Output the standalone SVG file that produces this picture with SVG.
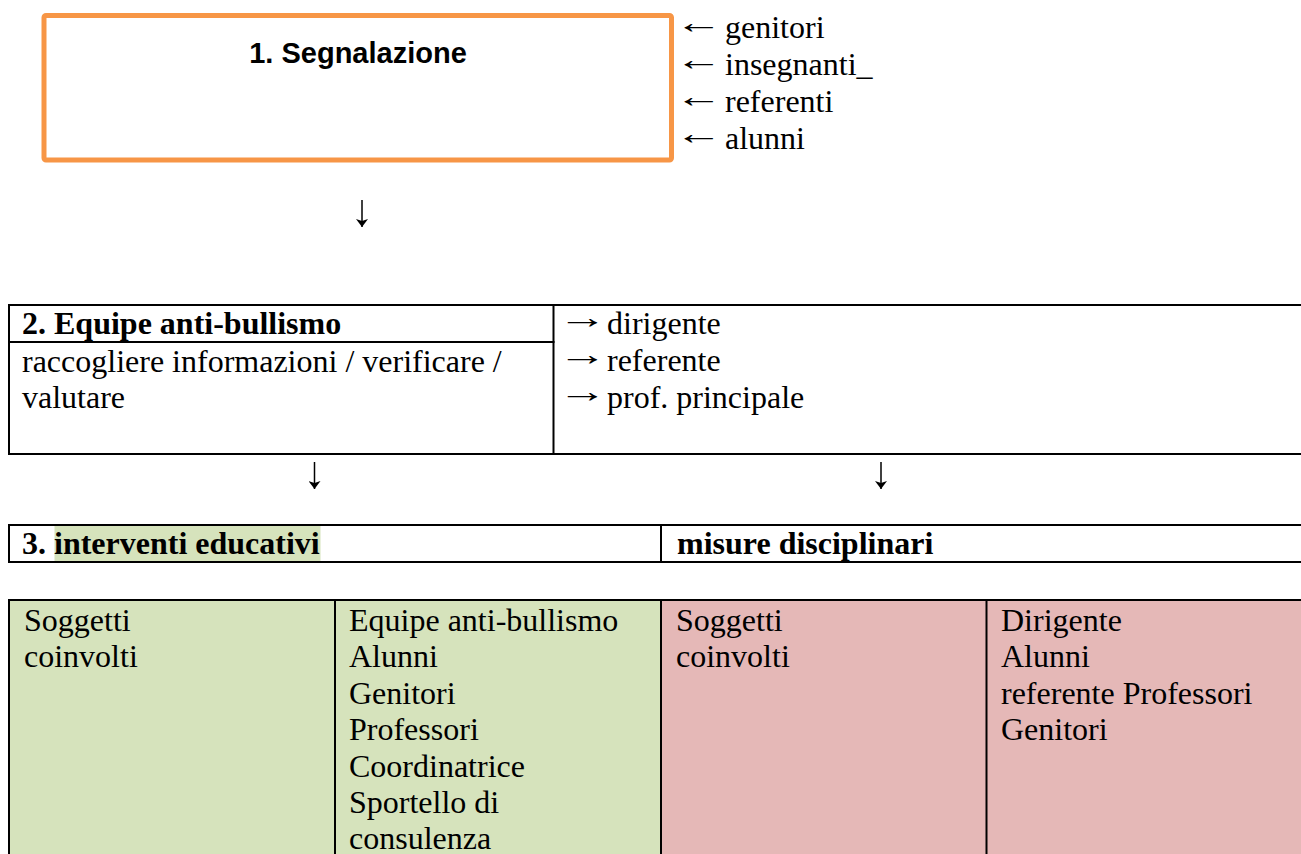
<svg xmlns="http://www.w3.org/2000/svg" width="1301" height="854" viewBox="0 0 1301 854">
  <style>
    .sans { font-family: "Liberation Sans", Arial, sans-serif; font-weight: bold; font-size: 29px; fill: #000; }
    .serif { font-family: "Liberation Serif", "Times New Roman", serif; font-size: 32px; fill: #000; }
    .bold { font-weight: bold; }
    .rule { stroke: #000; stroke-width: 2; fill: none; stroke-linecap: square; }
    .conn { stroke: #000; stroke-width: 1.5; fill: none; }
  </style>
  <defs>
    <marker id="ah" viewBox="0 0 8 12" markerWidth="8" markerHeight="12" refX="8" refY="6" orient="auto" markerUnits="userSpaceOnUse">
      <path d="M0,0 L8,6 L0,12 L2,6 Z" fill="#000"/>
    </marker>
  </defs>
  <rect x="0" y="0" width="1301" height="854" fill="#fff"/>

  <g id="n1-segnalazione">
    <rect x="44" y="15.5" width="627.5" height="144.5" rx="2" fill="#fff" stroke="#F79646" stroke-width="5"/>
    <text class="sans" x="358" y="63" text-anchor="middle">1. Segnalazione</text>
  </g>

  <g id="n1-fonti">
    <text class="serif" transform="translate(675 32.5) scale(1.5 1)">←</text>
    <text class="serif" x="725" y="37.5">genitori</text>
    <text class="serif" transform="translate(675 69.5) scale(1.5 1)">←</text>
    <text class="serif" x="725" y="74.5">insegnanti_</text>
    <text class="serif" transform="translate(675 106.5) scale(1.5 1)">←</text>
    <text class="serif" x="725" y="111.5">referenti</text>
    <text class="serif" transform="translate(675 143.5) scale(1.5 1)">←</text>
    <text class="serif" x="725" y="148.5">alunni</text>
  </g>

  <g id="n2-equipe">
    <line class="rule" x1="9" y1="305" x2="1301" y2="305"/>
    <line class="rule" x1="9" y1="454" x2="1301" y2="454"/>
    <line class="rule" x1="9" y1="305" x2="9" y2="454"/>
    <line class="rule" x1="553.5" y1="305" x2="553.5" y2="454"/>
    <line class="rule" x1="9" y1="342" x2="553.5" y2="342"/>
    <text class="serif bold" x="22" y="334">2. Equipe anti-bullismo</text>
    <text class="serif" x="22" y="371.5">raccogliere informazioni / verificare /</text>
    <text class="serif" x="22" y="408">valutare</text>
  </g>

  <g id="n2-destinatari">
    <text class="serif" transform="translate(558 328) scale(1.55 1)">→</text>
    <text class="serif" x="607" y="334">dirigente</text>
    <text class="serif" transform="translate(558 365) scale(1.55 1)">→</text>
    <text class="serif" x="607" y="371">referente</text>
    <text class="serif" transform="translate(558 402) scale(1.55 1)">→</text>
    <text class="serif" x="607" y="408">prof. principale</text>
  </g>

  <g id="n3-interventi">
    <rect x="54.5" y="526" width="266" height="35" fill="#D6E3BC"/>
    <line class="rule" x1="9" y1="525" x2="1301" y2="525"/>
    <line class="rule" x1="9" y1="562" x2="1301" y2="562"/>
    <line class="rule" x1="9" y1="525" x2="9" y2="562"/>
    <line class="rule" x1="661" y1="525" x2="661" y2="562"/>
    <text class="serif bold" x="22" y="554">3. interventi educativi</text>
    <text class="serif bold" x="677" y="554">misure disciplinari</text>
  </g>

  <g id="n4-soggetti">
    <rect x="9" y="600" width="652" height="254" fill="#D6E3BC"/>
    <rect x="661" y="600" width="640" height="254" fill="#E5B8B7"/>
    <line class="rule" x1="9" y1="600" x2="1301" y2="600"/>
    <line class="rule" x1="9" y1="600" x2="9" y2="854"/>
    <line class="rule" x1="335" y1="600" x2="335" y2="854"/>
    <line class="rule" x1="661" y1="600" x2="661" y2="854"/>
    <line class="rule" x1="986.5" y1="600" x2="986.5" y2="854"/>
    <text class="serif" x="24" y="630.5">Soggetti</text>
    <text class="serif" x="24" y="667">coinvolti</text>
    <text class="serif" x="349">
      <tspan x="349" y="630.5">Equipe anti-bullismo</tspan>
      <tspan x="349" y="667">Alunni</tspan>
      <tspan x="349" y="703.6">Genitori</tspan>
      <tspan x="349" y="740.2">Professori</tspan>
      <tspan x="349" y="776.8">Coordinatrice</tspan>
      <tspan x="349" y="813.4">Sportello di</tspan>
      <tspan x="349" y="849">consulenza</tspan>
    </text>
    <text class="serif" x="676" y="630.5">Soggetti</text>
    <text class="serif" x="676" y="667">coinvolti</text>
    <text class="serif" x="1001">
      <tspan x="1001" y="630.5">Dirigente</tspan>
      <tspan x="1001" y="667">Alunni</tspan>
      <tspan x="1001" y="703.6">referente Professori</tspan>
      <tspan x="1001" y="740.2">Genitori</tspan>
    </text>
  </g>

  <g id="connectors">
    <line class="conn" x1="362" y1="200" x2="362" y2="227" marker-end="url(#ah)"/>
    <line class="conn" x1="314.5" y1="462" x2="314.5" y2="489" marker-end="url(#ah)"/>
    <line class="conn" x1="881" y1="462" x2="881" y2="489" marker-end="url(#ah)"/>
  </g>
</svg>
